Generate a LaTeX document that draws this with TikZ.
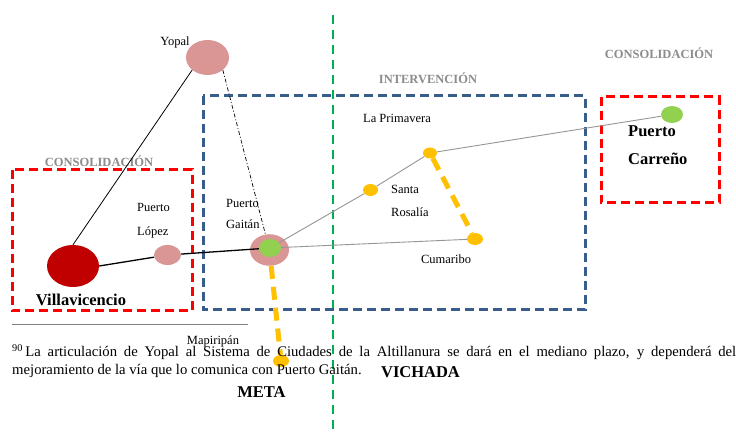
\documentclass[tikz,border=0pt]{standalone}
\usepackage{fontspec}
\setmainfont{Liberation Serif}
\usetikzlibrary{shapes.geometric}

\definecolor{cityred}{RGB}{192,0,0}
\definecolor{citypink}{RGB}{217,150,148}
\definecolor{citygreen}{RGB}{146,208,80}
\definecolor{cityorange}{RGB}{255,192,0}
\definecolor{zoneblue}{RGB}{56,93,138}
\definecolor{zonered}{RGB}{255,0,0}
\definecolor{divgreen}{RGB}{0,176,80}
\definecolor{headgray}{RGB}{140,140,140}
\definecolor{roadgray}{RGB}{150,150,150}

\begin{document}
\begin{tikzpicture}[x=1pt,y=-1pt,
  city/.style={ellipse,inner sep=0pt,draw=none},
  lbl/.style={inner sep=0pt,font=\fontsize{12.5}{14}\selectfont},
  boldlbl/.style={inner sep=0pt,font=\fontsize{16.5}{18}\selectfont\bfseries},
  zonehead/.style={inner sep=0pt,text=headgray,font=\fontsize{12.5}{14}\selectfont\bfseries},
  bluezone/.style={draw=zoneblue,line width=3pt,dash pattern=on 9pt off 5pt},
  redzone/.style={draw=zonered,line width=3pt,dash pattern=on 9pt off 5pt},
  mainroad/.style={draw=black,line width=1.3pt},
  thinroad/.style={draw=black,line width=0.8pt},
  graylink/.style={draw=roadgray,line width=0.9pt},
  plannedlink/.style={draw=cityorange,line width=5pt,dash pattern=on 13pt off 8pt},
  futurelink/.style={draw=black,line width=0.7pt,dash pattern=on 4pt off 2pt on 1pt off 2pt},
  footfont/.style={inner sep=0pt,font=\fontsize{14.7}{17}\selectfont}
]
\useasboundingbox (0,0) rectangle (736,435);
\fill[white] (0,0) rectangle (736,435);

% department divider
\coordinate (divtop) at (333,15);
\coordinate (divbot) at (333,435);
\draw[divgreen,line width=2.5pt,dash pattern=on 9pt off 6pt] (divtop) -- (divbot);

% zones
\draw[bluezone] (203,96) rectangle (585,310);
\draw[redzone] (12,170) rectangle (192,311);
\draw[redzone] (601,97) rectangle (719,203);

\node[zonehead] (hIntervencion) at (428,78) {INTERVENCIÓN};
\node[zonehead] (hConsolL) at (99,161) {CONSOLIDACIÓN};
\node[zonehead] (hConsolR) at (659,53) {CONSOLIDACIÓN};

% cities
\node[city,fill=citypink,minimum width=43pt,minimum height=35pt] (yopal) at (207.5,57.5) {};
\node[city,fill=cityred,minimum width=52pt,minimum height=42pt] (villa) at (73,266) {};
\node[city,fill=citypink,minimum width=27pt,minimum height=20pt] (lopez) at (167.5,255) {};
\node[city,fill=citypink,minimum width=39pt,minimum height=31.5pt] (gaitan) at (269.5,250) {};
\node[city,fill=citygreen,minimum width=22pt,minimum height=18pt] (gaitanin) at (270,248) {};
\node[city,fill=citygreen,minimum width=22pt,minimum height=17pt] (carreno) at (672,114.5) {};
\node[city,fill=cityorange,minimum width=14pt,minimum height=11pt] (primavera) at (430,153) {};
\node[city,fill=cityorange,minimum width=15pt,minimum height=12pt] (rosalia) at (370.5,190) {};
\node[city,fill=cityorange,minimum width=16pt,minimum height=12pt] (cumaribo) at (475,239) {};
\node[city,fill=cityorange,minimum width=16pt,minimum height=12pt] (mapiripan) at (281,361) {};

% links
\draw[thinroad] (villa.north) -- (yopal.south west);
\draw[futurelink] (yopal.south east) -- (gaitan);
\draw[mainroad] (villa.east) -- (lopez);
\draw[mainroad] (lopez) -- (gaitanin);
\draw[graylink] (gaitanin) -- (rosalia);
\draw[graylink] (rosalia) -- (primavera);
\draw[graylink] (primavera) -- (carreno);
\draw[graylink] (gaitanin) -- (cumaribo);
\draw[plannedlink] (primavera) -- (cumaribo);
\draw[plannedlink] (gaitan) -- (mapiripan);

% city labels
\node[lbl] (tYopal) at (175,42) {Yopal};
\node[lbl] (tPrimavera) at (397,118) {La Primavera};
\node[lbl,anchor=west] (tSanta) at (391,189) {Santa};
\node[lbl,anchor=west] (tRosalia) at (391,212) {Rosalía};
\node[lbl] (tCumaribo) at (446,259) {Cumaribo};
\node[lbl,anchor=west] (tPuertoL) at (137,207) {Puerto};
\node[lbl,anchor=west] (tLopez) at (137,232) {López};
\node[lbl,anchor=west] (tPuertoG) at (226,203) {Puerto};
\node[lbl,anchor=west] (tGaitan) at (226,224) {Gaitán};
\node[lbl] (tMapiripan) at (213,341) {Mapiripán};
\node[boldlbl] (tVilla) at (81,300) {Villavicencio};
\node[boldlbl,anchor=west] (tPuertoC) at (628,131) {Puerto};
\node[boldlbl,anchor=west] (tCarreno) at (628,159) {Carreño};
\node[boldlbl] (tMeta) at (261.5,392) {META};
\node[boldlbl] (tVichada) at (420.5,372) {VICHADA};

% footnote
\coordinate (ruleL) at (12,324.5);
\coordinate (ruleR) at (248,324.5);
\draw[gray,line width=1pt] (ruleL) -- (ruleR);
\node[footfont,anchor=base west] (foot1) at (12,357)
  {\makebox[724pt][s]{\textsuperscript{90}\,La articulación de Yopal al Sistema de Ciudades de la Altillanura se dará en el mediano plazo, y dependerá del}};
\node[footfont,anchor=base west] (foot2) at (12,374)
  {mejoramiento de la vía que lo comunica con Puerto Gaitán.};
\end{tikzpicture}
\end{document}
